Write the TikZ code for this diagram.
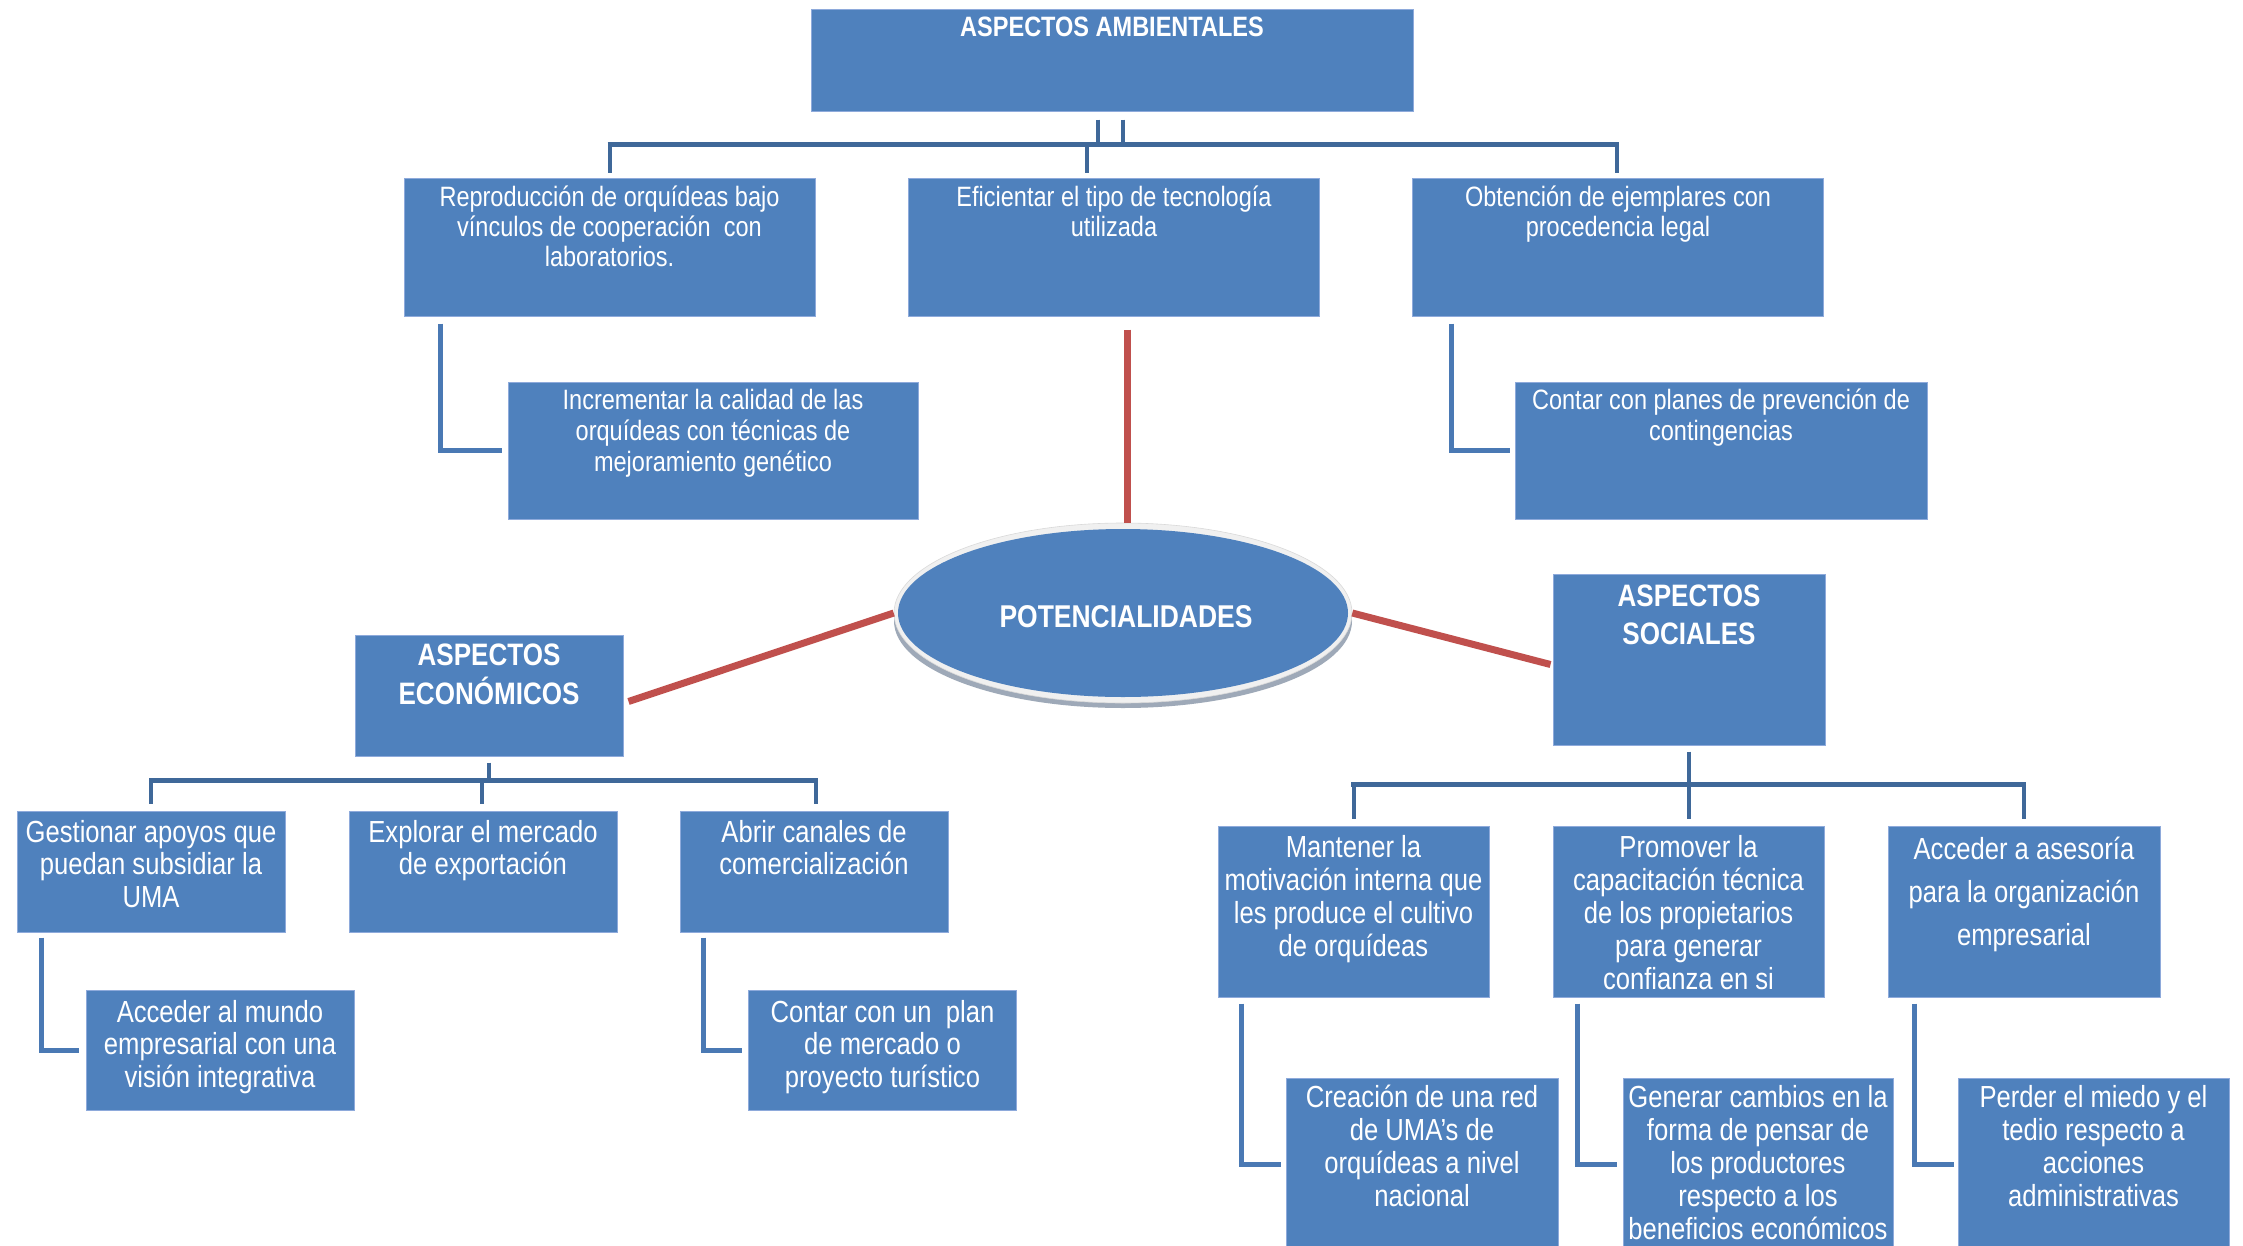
\documentclass[tikz,border=0pt]{standalone}
\usepackage{fontspec}
\setmainfont{Liberation Sans}[FakeStretch=0.84]
\usetikzlibrary{shapes.geometric,calc}
\definecolor{boxblue}{HTML}{4F81BD}
\definecolor{boxedge}{HTML}{8EAADB}
\definecolor{barblue}{HTML}{3F6899}
\definecolor{elbblue}{HTML}{4A79B4}
\definecolor{redline}{HTML}{C0504D}
\definecolor{rimcol}{HTML}{F0F0F0}
\definecolor{shadowgray}{HTML}{9EA9B8}
\newcommand\myfLev{\fontsize{28}{30}\selectfont}
\newcommand\myfSub{\fontsize{28}{31}\selectfont}
\newcommand\myfTa{\bfseries\fontsize{28}{30}\selectfont}
\newcommand\myfTb{\bfseries\fontsize{31}{33}\selectfont}
\newcommand\myfTc{\bfseries\fontsize{31}{38}\selectfont}
\newcommand\myfE{\fontsize{30.5}{32.5}\selectfont}
\newcommand\myfS{\fontsize{30.5}{33}\selectfont}
\newcommand\myfSw{\fontsize{30.5}{43}\selectfont}
\newcommand\myfP{\bfseries\fontsize{31.5}{33}\selectfont}
\begin{document}
\begin{tikzpicture}[x=1pt,y=-1pt,
 box/.style={rectangle, fill=boxblue, draw=boxedge, line width=1pt, inner sep=0pt},
 txt/.style={anchor=north, inner sep=0pt, align=center, text=white},
 bar/.style={draw=barblue, line width=4pt},
 hbar/.style={draw=barblue, line width=5pt},
 elb/.style={draw=elbblue, line width=5pt},
 potline/.style={draw=redline, line width=7pt},
]
\fill[white] (0,0) rectangle (2243,1245);
\useasboundingbox (0,0) rectangle (2243,1245);

% ---------- ambientales ----------
\node[box, minimum width=602, minimum height=102] (amb) at (1112,60) {};
\node[txt, font=\myfTa] (ambt) at ($(amb.north)+(0,7)$) {\strut ASPECTOS AMBIENTALES};

\node[box, minimum width=411, minimum height=138] (a1) at (609.5,247) {};
\node[box, minimum width=411, minimum height=138] (a2) at (1114,247) {};
\node[box, minimum width=411, minimum height=138] (a3) at (1618,247) {};
\node[txt, font=\myfLev] (a1t) at ($(a1.north)+(0,8)$) {\strut Reproducción de orquídeas bajo\\ vínculos de cooperación~ con\\ laboratorios.};
\node[txt, font=\myfLev] (a2t) at ($(a2.north)+(0,8)$) {\strut Eficientar el tipo de tecnología\\ utilizada};
\node[txt, font=\myfLev] (a3t) at ($(a3.north)+(0,8)$) {\strut Obtención de ejemplares con\\ procedencia legal};

\node[box, minimum width=410, minimum height=137] (a1s) at (713,450.5) {};
\node[box, minimum width=412, minimum height=137] (a3s) at (1721,450.5) {};
\node[txt, font=\myfSub] (a1st) at ($(a1s.north)+(0,6)$) {\strut Incrementar la calidad de las\\ orquídeas con técnicas de\\ mejoramiento genético};
\node[txt, font=\myfSub] (a3st) at ($(a3s.north)+(0,6)$) {\strut Contar con planes de prevención de\\ contingencias};

\draw[bar] ($(amb.south)+(-14,8)$) -- ++(0,26);
\draw[bar] ($(amb.south)+(11,8)$) -- ++(0,26);
\draw[hbar] ($(a1.north)+(-2,-33)$) -- ($(a3.north)+(1,-33)$);
\draw[bar] ($(a1.north)+(0,-33)$) -- ($(a1.north)+(0,-5)$);
\draw[bar] ($(a2.north)+(-27,-33)$) -- ($(a2.north)+(-27,-5)$);
\draw[bar] ($(a3.north)+(-1,-33)$) -- ($(a3.north)+(-1,-5)$);

\draw[elb] ($(a1.south west)+(37,7)$) |- ($(a1s.west)+(-6,0)$);
\draw[elb] ($(a3.south west)+(39,7)$) |- ($(a3s.west)+(-5,0)$);

% ---------- economicos ----------
\node[box, minimum width=268, minimum height=121] (econ) at (489,695.5) {};
\node[txt, font=\myfTb] (econt) at ($(econ.north)+(0,8)$) {\strut ASPECTOS\\ ECONÓMICOS};

\node[box, minimum width=268, minimum height=121] (e1) at (151,871.5) {};
\node[box, minimum width=268, minimum height=121] (e2) at (483,871.5) {};
\node[box, minimum width=268, minimum height=121] (e3) at (814,871.5) {};
\node[txt, font=\myfE] (e1t) at ($(e1.north)+(0,9)$) {\strut Gestionar apoyos que\\ puedan subsidiar la\\ UMA};
\node[txt, font=\myfE] (e2t) at ($(e2.north)+(0,9)$) {\strut Explorar el mercado\\ de exportación};
\node[txt, font=\myfE] (e3t) at ($(e3.north)+(0,9)$) {\strut Abrir canales de\\ comercialización};

\node[box, minimum width=268, minimum height=120] (e1s) at (220,1050) {};
\node[box, minimum width=268, minimum height=120] (e3s) at (882.5,1050) {};
\node[txt, font=\myfE] (e1st) at ($(e1s.north)+(0,10)$) {\strut Acceder al mundo\\ empresarial con una\\ visión integrativa};
\node[txt, font=\myfE] (e3st) at ($(e3s.north)+(0,10)$) {\strut Contar con un~ plan\\ de mercado o\\ proyecto turístico};

\draw[bar] ($(econ.south)+(0,6)$) -- ++(0,20);
\draw[hbar] ($(e1.north)+(-2,-30)$) -- ($(e3.north)+(4,-30)$);
\draw[bar] ($(e1.north)+(0,-30)$) -- ($(e1.north)+(0,-7)$);
\draw[bar] ($(e2.north)+(-1,-30)$) -- ($(e2.north)+(-1,-7)$);
\draw[bar] ($(e3.north)+(2,-30)$) -- ($(e3.north)+(2,-7)$);

\draw[elb] ($(e1.south west)+(25,5)$) |- ($(e1s.west)+(-7,0)$);
\draw[elb] ($(e3.south west)+(24,5)$) |- ($(e3s.west)+(-6,0)$);

% ---------- sociales ----------
\node[box, minimum width=272, minimum height=171] (soc) at (1689,659.5) {};
\node[txt, font=\myfTc] (soct) at ($(soc.north)+(0,6)$) {\strut ASPECTOS\\ SOCIALES};

\node[box, minimum width=271, minimum height=171] (s1) at (1353.5,911.5) {};
\node[box, minimum width=271, minimum height=171] (s2) at (1688.5,911.5) {};
\node[box, minimum width=272, minimum height=171] (s3) at (2024,911.5) {};
\node[txt, font=\myfS] (s1t) at ($(s1.north)+(0,9)$) {\strut Mantener la\\ motivación interna que\\ les produce el cultivo\\ de orquídeas};
\node[txt, font=\myfS] (s2t) at ($(s2.north)+(0,9)$) {\strut Promover la\\ capacitación técnica\\ de los propietarios\\ para generar\\ confianza en si};
\node[txt, font=\myfSw] (s3t) at ($(s3.north)+(0,4)$) {\strut Acceder a asesoría\\ para la organización\\ empresarial};

\node[box, minimum width=272, minimum height=172] (s1s) at (1422,1164) {};
\node[box, minimum width=270, minimum height=172] (s2s) at (1758,1164) {};
\node[box, minimum width=271, minimum height=172] (s3s) at (2093.5,1164) {};
\node[txt, font=\myfS] (s1st) at ($(s1s.north)+(0,7)$) {\strut Creación de una red\\ de UMA’s de\\ orquídeas a nivel\\ nacional};
\node[txt, font=\myfS] (s2st) at ($(s2s.north)+(0,7)$) {\strut Generar cambios en la\\ forma de pensar de\\ los productores\\ respecto a los\\ beneficios económicos};
\node[txt, font=\myfS] (s3st) at ($(s3s.north)+(0,7)$) {\strut Perder el miedo y el\\ tedio respecto a\\ acciones\\ administrativas};

\draw[bar] ($(soc.south)+(0,6)$) -- ++(0,35);
\draw[hbar] ($(s1.north)+(-2.5,-41)$) -- ($(s3.north)+(2,-41)$);
\draw[bar] ($(s1.north)+(0,-41)$) -- ($(s1.north)+(0,-7)$);
\draw[bar] ($(s2.north)+(0,-41)$) -- ($(s2.north)+(0,-7)$);
\draw[bar] ($(s3.north)+(0,-41)$) -- ($(s3.north)+(0,-7)$);

\draw[elb] ($(s1.south west)+(24,6)$) |- ($(s1s.west)+(-5,0)$);
\draw[elb] ($(s2.south west)+(25,6)$) |- ($(s2s.west)+(-6,0)$);
\draw[elb] ($(s3.south west)+(27,6)$) |- ($(s3s.west)+(-4,0)$);

% ---------- potencialidades ----------
\fill[shadowgray] (1123,621) ellipse [x radius=229, y radius=87];
\node[ellipse, fill=rimcol, draw=white!85!black, line width=0.6pt, minimum width=458, minimum height=180, inner sep=0pt] (potrim) at (1123,613) {};
\node[ellipse, fill=boxblue, minimum width=450, minimum height=168, inner sep=0pt] (pot) at (1123,613) {};
\node[inner sep=0pt, text=white, font=\myfP] (pott) at (1126,617) {POTENCIALIDADES};

\coordinate (r1) at ($(a2.south)+(13,13)$);
\draw[potline] (r1) -- (r1 |- potrim.north);
\draw[potline] (potrim.west) -- ($(econ.east)+(5,6)$);
\draw[potline] (potrim.east) -- ($(soc.west)+(-2,5)$);
\end{tikzpicture}
\end{document}
